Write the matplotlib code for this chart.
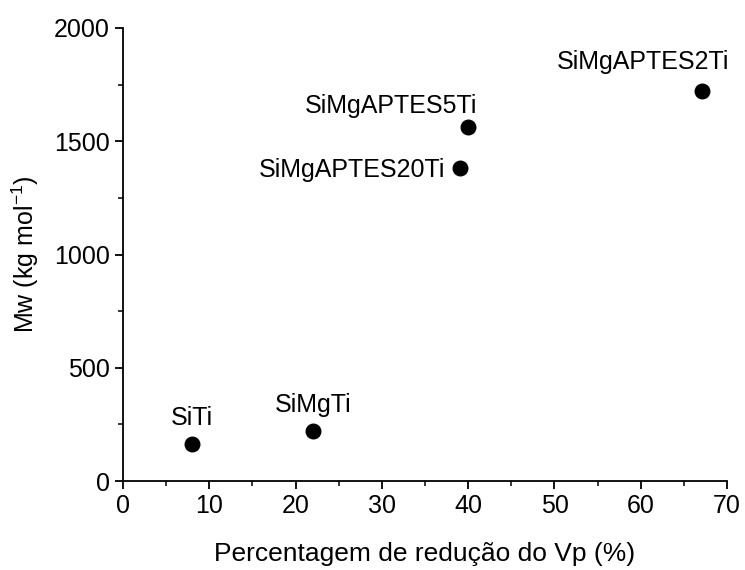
import numpy as np
import matplotlib.pyplot as plt
from matplotlib.ticker import MultipleLocator

# Datos
muestras = ['SiTi', 'SiMgTi', 'SiMgAPTES20Ti', 'SiMgAPTES5Ti', 'SiMgAPTES2Ti']
reduccion_vp = [8, 22, 39.1, 40, 67.1]
mw = [165, 220, 1382, 1563, 1722]

# Posición de cada etiqueta respecto al punto (dx, dy en píxeles, alineación)
etiquetas = {
    'SiTi': ((0, 19), 'center', 'baseline'),
    'SiMgTi': ((0, 19), 'center', 'baseline'),
    'SiMgAPTES20Ti': ((-15, 0), 'right', 'center_baseline'),
    'SiMgAPTES5Ti': ((9, 14), 'right', 'baseline'),
    'SiMgAPTES2Ti': ((27, 22), 'right', 'baseline'),
}

plt.rcParams['font.family'] = ['Liberation Sans', 'DejaVu Sans']
plt.rcParams['font.size'] = 18

fig = plt.figure(figsize=(7.45, 5.7), dpi=100)
ax = fig.add_axes([0.165, 0.156, 0.811, 0.795])

ax.scatter(reduccion_vp, mw, s=110, color='black', zorder=3)

for nombre, x, y in zip(muestras, reduccion_vp, mw):
    desp, ha, va = etiquetas[nombre]
    ax.annotate(nombre, (x, y), xytext=desp, textcoords='offset pixels',
                ha=ha, va=va)

ax.set_xlim(0, 70)
ax.set_ylim(0, 2000)
ax.xaxis.set_major_locator(MultipleLocator(10))
ax.xaxis.set_minor_locator(MultipleLocator(5))
ax.yaxis.set_major_locator(MultipleLocator(500))
ax.yaxis.set_minor_locator(MultipleLocator(250))

ax.spines['top'].set_visible(False)
ax.spines['right'].set_visible(False)
for s in ['left', 'bottom']:
    ax.spines[s].set_linewidth(1.3)
ax.tick_params(which='major', direction='out', length=6, width=1.3)
ax.tick_params(which='minor', direction='out', length=3.5, width=1.1)

ax.set_xlabel('Percentagem de redução do Vp (%)', fontsize=19, labelpad=17)
ax.set_ylabel('Mw (kg mol$^{\\mathregular{-1}}$)', labelpad=9)

plt.savefig('out.png', dpi=100)
